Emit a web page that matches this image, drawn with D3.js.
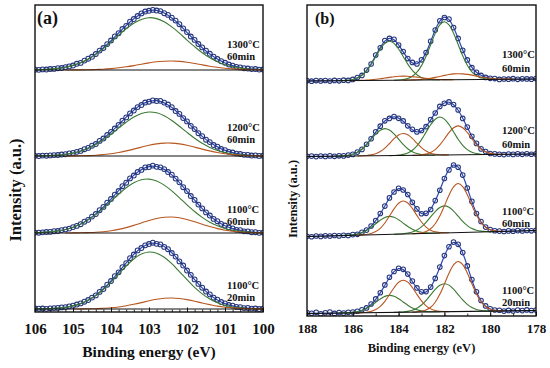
<!DOCTYPE html>
<html><head><meta charset="utf-8">
<script src="https://cdn.jsdelivr.net/npm/d3@7"></script>
<style>body{margin:0;background:#fff}</style>
</head><body><div id="chart"></div>
<script>
// ---- panel (a): Si 2p region, 106 -> 100 eV, data every 0.1 eV, fit components every 0.2 eV
const ticksA = [106, 105, 104, 103, 102, 101, 100];
const aData1300 = [0.3,0.2,0.6,0.5,1.0,1.1,1.8,2.0,2.9,3.6,4.5,6.2,7.1,9.4,11.3,13.2,16.0,19.4,22.0,25.9,29.5,33.6,36.8,41.0,44.2,48.3,51.0,54.0,56.6,58.5,59.2,60.1,59.5,58.9,56.8,55.1,52.3,49.4,45.8,41.6,37.9,33.5,30.1,26.0,22.6,19.3,16.2,13.3,11.0,8.8,7.2,5.5,4.4,3.2,2.6,1.8,1.5,0.9,1.0,0.4,0.5];
const aG1300 = [0.2,0.5,0.9,1.6,2.8,4.6,7.2,10.8,15.6,21.4,27.9,34.8,41.3,46.8,50.6,52.3,51.4,48.2,43.1,36.9,29.9,23.3,17.2,12.2,8.2,5.3,3.2,1.9,1.0,0.6,0.3];
const aB1300 = [0,0,0,0,0,0.1,0.1,0.2,0.5,0.8,1.4,2.2,3.2,4.4,5.8,7.1,8.2,8.8,9.0,8.6,7.7,6.5,5.1,3.8,2.7,1.7,1.1,0.6,0.3,0.2,0.1];

const aData1200 = [0.2,0.0,0.4,0.3,0.6,0.9,1.0,1.5,1.8,2.6,3.1,4.2,5.1,6.8,8.1,10.3,12.0,15.1,17.5,21.0,24.2,27.5,31.2,35.4,38.6,42.6,45.5,48.9,51.0,53.5,54.3,55.6,55.0,55.2,53.4,51.5,48.8,45.0,42.1,37.9,34.6,30.2,26.9,22.8,19.9,16.3,13.9,11.0,9.3,7.0,5.8,4.2,3.5,2.4,2.0,1.2,1.1,0.5,0.6,0.1,0.3];
const aG1200 = [0.1,0.2,0.5,0.9,1.7,2.9,4.8,7.6,11.4,16.2,21.8,27.9,33.8,38.9,42.5,44.0,43.2,40.2,35.5,29.7,23.6,17.8,12.7,8.6,5.6,3.4,2.0,1.1,0.6,0.3,0.1];
const aB1200 = [0,0,0,0,0,0.1,0.2,0.4,0.8,1.4,2.2,3.5,5.1,6.9,8.9,10.7,12.1,12.9,12.9,12.1,10.7,8.9,6.9,5.1,3.5,2.2,1.4,0.8,0.4,0.2,0.1];

const aData1100_60 = [0.4,0.3,0.7,1.0,1.1,1.8,2.0,2.9,3.6,4.4,5.9,7.1,8.8,11.3,13.2,16.4,19.0,22.8,26.1,30.3,34.0,38.4,42.0,46.8,50.3,54.6,57.5,61.0,63.1,65.6,66.0,67.4,66.2,65.7,63.9,61.0,58.3,54.4,50.7,45.8,41.9,37.0,33.1,28.4,24.6,20.6,17.5,14.1,11.8,9.1,7.5,5.5,4.6,3.2,2.8,1.7,1.6,0.8,0.8,0.2,0.4];
const aG1100_60 = [0.3,0.6,1.2,2.1,3.5,5.7,8.8,13.1,18.4,24.7,31.7,38.7,45.2,50.2,53.3,53.9,52.0,47.9,42.1,35.2,28.2,21.5,15.6,10.8,7.2,4.5,2.7,1.6,0.9,0.4,0.2];
const aB1100_60 = [0,0,0,0,0,0.1,0.2,0.4,0.7,1.3,2.2,3.6,5.4,7.6,10.1,12.5,14.5,15.7,16.0,15.2,13.5,11.3,8.8,6.5,4.4,2.8,1.7,1.0,0.5,0.2,0.1];

const aData1100_20 = [0.6,0.3,0.5,0.2,0.7,0.9,1.1,1.6,1.9,2.7,3.3,4.5,5.6,7.3,9.0,11.4,13.6,17.1,20.0,24.3,28.0,32.8,36.7,41.8,45.9,50.8,54.5,58.6,61.0,63.7,65.0,66.3,65.2,64.6,62.1,59.8,56.0,52.4,47.6,43.5,38.5,34.2,29.6,25.1,21.3,17.5,14.6,11.3,9.3,7.0,5.7,4.0,3.4,2.1,1.9,0.9,1.1,0.4,0.5,0.0,0.3];
const aG1100_20 = [0.1,0.2,0.4,0.9,1.7,3.1,5.3,8.7,13.4,19.5,26.9,35.0,43.0,50.0,54.9,57.0,55.8,51.7,45.3,37.4,29.3,21.6,15.1,9.9,6.2,3.6,2.0,1.1,0.5,0.2,0.1];
const aB1100_20 = [0,0,0,0,0,0,0.1,0.2,0.3,0.7,1.2,2.0,3.2,4.7,6.4,8.2,9.7,10.7,11.0,10.5,9.4,7.8,6.0,4.4,2.9,1.8,1.1,0.6,0.3,0.1,0.1];

// ---- panel (b): Zr 3d region, 188 -> 178 eV, everything every 0.2 eV
const ticksB = [188, 186, 184, 182, 180, 178];
const bData1300 = [0.3,-0.2,0.4,0.1,0.5,-0.1,0.6,0.2,0.8,0.6,1.6,3.4,5.6,10.9,17.0,25.9,33.2,40.5,42.6,41.8,35.9,29.5,22.4,18.6,17.0,21.2,28.4,39.8,50.9,60.3,63.5,61.9,53.4,42.6,30.7,21.1,13.3,8.7,5.6,3.6,2.7,2.4,1.6,2.0,1.8,2.3,1.7,2.2,2.1,1.8,2.4];
const bG1_1300 = [0,0,0,0,0,0,0,0,0.2,0.4,1.1,2.6,5.3,9.7,16.0,23.7,31.2,36.9,39,36.9,31.2,23.7,16.0,9.7,5.3,2.6,1.1,0.4,0.2,0,0,0,0,0,0,0,0,0,0,0,0,0,0,0,0,0,0,0,0,0,0];
const bG2_1300 = [0,0,0,0,0,0,0,0,0,0,0,0,0,0,0,0,0,0,0,0,0.2,0.6,1.7,3.8,7.8,14.4,23.8,35.2,46.5,54.9,58,54.9,46.5,35.2,23.8,14.4,7.8,3.8,1.7,0.6,0.2,0,0,0,0,0,0,0,0,0,0];
const bB1_1300 = [0,0,0,0,0,0,0,0,0,0,0,0.1,0.2,0.4,0.7,1.1,1.6,2.3,2.9,3.5,3.9,4,3.9,3.5,2.9,2.3,1.6,1.1,0.7,0.4,0.2,0.1,0,0,0,0,0,0,0,0,0,0,0,0,0,0,0,0,0,0,0];
const bB2_1300 = [0,0,0,0,0,0,0,0,0,0,0,0,0,0,0,0,0,0,0,0,0,0,0.1,0.2,0.3,0.6,1.1,1.7,2.5,3.4,4.4,5.2,5.8,6,5.8,5.2,4.4,3.4,2.5,1.7,1.1,0.6,0.3,0.2,0.1,0,0,0,0,0,0];

const bData1200 = [0.2,0.4,-0.1,0.5,0.1,0.6,0.2,0.7,0.6,1.4,2.1,4.4,7.1,12.3,17.8,24.8,30.3,35.7,38.1,40.0,38.2,35.6,30.7,27.2,24.6,26.0,29.8,36.9,43.5,50.1,53.2,54.6,51.9,46.5,38.1,29.4,20.2,13.1,7.6,4.9,3.0,2.6,2.3,1.9,2.5,2.1,2.6,2.2,2.8,2.3,2.6];
const bG1_1200 = [0,0,0,0,0,0,0,0.1,0.3,0.8,1.8,3.6,6.7,11.1,16.4,21.6,25.5,27,25.5,21.6,16.4,11.1,6.7,3.6,1.8,0.8,0.3,0.1,0,0,0,0,0,0,0,0,0,0,0,0,0,0,0,0,0,0,0,0,0,0,0];
const bB1_1200 = [0,0,0,0,0,0,0,0,0,0,0,0,0.1,0.3,0.9,2.0,4.2,7.6,12.1,16.9,20.6,22,20.6,16.9,12.1,7.6,4.2,2.0,0.9,0.3,0.1,0,0,0,0,0,0,0,0,0,0,0,0,0,0,0,0,0,0,0,0];
const bG2_1200 = [0,0,0,0,0,0,0,0,0,0,0,0,0,0,0,0,0,0,0,0.1,0.4,1.1,2.5,5.1,9.5,15.6,23.1,30.4,35.9,38,35.9,30.4,23.1,15.6,9.5,5.1,2.5,1.1,0.4,0.1,0,0,0,0,0,0,0,0,0,0,0];
const bB2_1200 = [0,0,0,0,0,0,0,0,0,0,0,0,0,0,0,0,0,0,0,0,0,0,0,0,0.1,0.4,1.1,2.7,5.5,10.1,16.0,22.3,27.1,29,27.1,22.3,16.0,10.1,5.5,2.7,1.1,0.4,0.1,0,0,0,0,0,0,0,0];

const bData1100_60 = [0.3,-0.2,0.5,0.1,0.7,0.4,1.0,0.6,1.3,1.0,1.9,2.2,4.3,6.4,10.5,15.9,23.0,30.4,38.6,44.5,48.2,46.5,42.0,34.2,27.6,22.8,23.2,27.0,35.9,46.3,58.0,66.6,71.5,69.3,61.4,48.5,35.1,23.0,15.0,9.4,6.9,5.8,5.4,5.0,5.6,5.3,5.9,5.5,6.1,5.7,6.2];
const bG1_1100_60 = [0,0,0,0,0,0,0,0,0.1,0.2,0.5,1.2,2.4,4.5,7.4,10.9,14.4,17.0,18,17.0,14.4,10.9,7.4,4.5,2.4,1.2,0.5,0.2,0.1,0,0,0,0,0,0,0,0,0,0,0,0,0,0,0,0,0,0,0,0,0,0];
const bB1_1100_60 = [0,0,0,0,0,0,0,0,0,0,0,0,0.2,0.5,1.3,3.1,6.3,11.5,18.2,25.3,30.9,33,30.9,25.3,18.2,11.5,6.3,3.1,1.3,0.5,0.2,0,0,0,0,0,0,0,0,0,0,0,0,0,0,0,0,0,0,0,0];
const bG2_1100_60 = [0,0,0,0,0,0,0,0,0,0,0,0,0,0,0,0,0,0,0,0,0.1,0.3,0.8,1.8,3.6,6.7,11.1,16.4,21.6,25.5,27,25.5,21.6,16.4,11.1,6.7,3.6,1.8,0.8,0.3,0.1,0,0,0,0,0,0,0,0,0,0];
const bB2_1100_60 = [0,0,0,0,0,0,0,0,0,0,0,0,0,0,0,0,0,0,0,0,0,0,0,0,0.2,0.7,1.9,4.5,9.4,17.0,27.0,37.6,45.9,49,45.9,37.6,27.0,17.0,9.4,4.5,1.9,0.7,0.2,0,0,0,0,0,0,0,0];

const bData1100_20 = [1.0,0.2,1.2,-0.3,0.8,1.4,0.1,0.9,0.4,1.3,1.5,2.3,3.8,5.6,9.5,14.6,20.8,28.6,36.3,42.0,45.3,44.2,39.4,32.5,25.6,21.7,21.9,26.4,35.1,46.4,57.9,66.8,71.4,69.2,60.9,47.6,33.9,21.8,13.0,7.6,4.8,3.5,3.3,2.4,3.1,2.5,3.4,2.9,3.6,3.0,3.5];
const bG1_1100_20 = [0,0,0,0,0,0,0,0,0.1,0.2,0.5,1.1,2.3,4.2,7.0,10.3,13.6,16.1,17,16.1,13.6,10.3,7.0,4.2,2.3,1.1,0.5,0.2,0.1,0,0,0,0,0,0,0,0,0,0,0,0,0,0,0,0,0,0,0,0,0,0];
const bB1_1100_20 = [0,0,0,0,0,0,0,0,0,0,0,0,0.2,0.5,1.3,3.0,6.1,11.1,17.7,24.6,30.0,32,30.0,24.6,17.7,11.1,6.1,3.0,1.3,0.5,0.2,0,0,0,0,0,0,0,0,0,0,0,0,0,0,0,0,0,0,0,0];
const bG2_1100_20 = [0,0,0,0,0,0,0,0,0,0,0,0,0,0,0,0,0,0,0,0,0.1,0.3,0.8,1.8,3.8,7.0,11.5,17.0,22.4,26.5,28,26.5,22.4,17.0,11.5,7.0,3.8,1.8,0.8,0.3,0.1,0,0,0,0,0,0,0,0,0,0];
const bB2_1100_20 = [0,0,0,0,0,0,0,0,0,0,0,0,0,0,0,0,0,0,0,0,0,0,0,0,0.2,0.7,2.0,4.6,9.6,17.4,27.6,38.4,46.8,50,46.8,38.4,27.6,17.4,9.6,4.6,2.0,0.7,0.2,0,0,0,0,0,0,0,0];

// linear background (value at 188 eV, value at 178 eV)
const bgB1300 = [0, 2], bgB1200 = [0, 2.5], bgB1100_60 = [0, 6], bgB1100_20 = [0, 3];

const W = 550, H = 368;
const COL = { circ: "#26357a", fit: "#2c48b8", green: "#3a7a32", brown: "#b8561f", base: "#111" };

const svg = d3.select("#chart").append("svg")
  .attr("width", W).attr("height", H)
  .style("font-family", "'Liberation Serif','Times New Roman',serif")
  .style("font-weight", "bold");
svg.append("rect").attr("width", W).attr("height", H).attr("fill", "#fff");

const eA = d3.range(61).map(i => +(106 - i * 0.1).toFixed(1));
const eAc = d3.range(31).map(i => +(106 - i * 0.2).toFixed(1));
const eB = d3.range(51).map(i => +(188 - i * 0.2).toFixed(1));

const xA = d3.scaleLinear().domain([106, 100]).range([35, 263]);
const xB = d3.scaleLinear().domain([188, 178]).range([307, 536]);

const specA = [
  { y0: 70,  lab: ["1300°C", "60min"], ly: [48, 60],   data: aData1300,    comps: [[aG1300, COL.green], [aB1300, COL.brown]] },
  { y0: 156, lab: ["1200°C", "60min"], ly: [131, 143], data: aData1200,    comps: [[aG1200, COL.green], [aB1200, COL.brown]] },
  { y0: 233, lab: ["1100°C", "60min"], ly: [213, 225], data: aData1100_60, comps: [[aG1100_60, COL.green], [aB1100_60, COL.brown]] },
  { y0: 309, lab: ["1100°C", "20min"], ly: [289, 301], data: aData1100_20, comps: [[aG1100_20, COL.green], [aB1100_20, COL.brown]] },
];
const specB = [
  { y0: 81,    bg: bgB1300,    lab: ["1300°C", "60min"], ly: [58, 72],   data: bData1300,
    comps: [[bG1_1300, COL.green], [bG2_1300, COL.green], [bB1_1300, COL.brown], [bB2_1300, COL.brown]] },
  { y0: 156.5, bg: bgB1200,    lab: ["1200°C", "60min"], ly: [134, 148], data: bData1200,
    comps: [[bG1_1200, COL.green], [bG2_1200, COL.green], [bB1_1200, COL.brown], [bB2_1200, COL.brown]] },
  { y0: 236.5, bg: bgB1100_60, lab: ["1100°C", "60min"], ly: [215, 227], data: bData1100_60,
    comps: [[bG1_1100_60, COL.green], [bG2_1100_60, COL.green], [bB1_1100_60, COL.brown], [bB2_1100_60, COL.brown]] },
  { y0: 313.5, bg: bgB1100_20, lab: ["1100°C", "20min"], ly: [294, 306], data: bData1100_20,
    comps: [[bG1_1100_20, COL.green], [bG2_1100_20, COL.green], [bB1_1100_20, COL.brown], [bB2_1100_20, COL.brown]] },
];

function drawSpectrum(g, x, grid, cgrid, sp, r, labX, fs) {
  const y = d3.scaleLinear().domain([0, 100]).range([sp.y0, sp.y0 - 100]);
  const bg = d3.scaleLinear().domain(x.domain()).range(sp.bg || [0, 0]);
  const line = d3.line().x(d => x(d[0])).y(d => y(d[1])).curve(d3.curveCatmullRom.alpha(0.5));

  // envelope of the fit (under the points)
  const env = cgrid.map((e, i) => [e, bg(e) + d3.sum(sp.comps, c => c[0][i])]);
  g.append("path").attr("d", line(env)).attr("fill", "none")
    .attr("stroke", COL.fit).attr("stroke-width", 1.2);
  // measured points
  g.append("g").selectAll("circle").data(sp.data.map((v, i) => [grid[i], v])).join("circle")
    .attr("cx", d => x(d[0])).attr("cy", d => y(d[1])).attr("r", r)
    .attr("fill", "none").attr("stroke", COL.circ).attr("stroke-width", 1.05);
  // fitted components, sitting on the background
  sp.comps.forEach(([vals, col]) => {
    let lo = vals.findIndex(v => v > 0), hi = vals.length - 1;
    while (hi > 0 && !(vals[hi] > 0)) hi--;
    lo = Math.max(0, lo - 1); hi = Math.min(vals.length - 1, hi + 1);
    const pts = cgrid.slice(lo, hi + 1).map((e, k) => [e, bg(e) + vals[lo + k]]);
    g.append("path").attr("d", line(pts)).attr("fill", "none")
      .attr("stroke", col).attr("stroke-width", 1.1);
  });
  // background line
  g.append("line")
    .attr("x1", x(x.domain()[0])).attr("x2", x(x.domain()[1]))
    .attr("y1", y(bg(x.domain()[0]))).attr("y2", y(bg(x.domain()[1])))
    .attr("stroke", COL.base).attr("stroke-width", 1.1);
  // condition label
  sp.lab.forEach((t, k) => g.append("text").attr("x", labX).attr("y", sp.ly[k])
    .attr("font-size", fs).attr("fill", "#111").text(t));
}

function drawPanel(cfg) {
  const g = svg.append("g");
  const clipId = "clip" + cfg.name;
  svg.append("clipPath").attr("id", clipId).append("rect")
    .attr("x", cfg.x.range()[0]).attr("y", cfg.top)
    .attr("width", cfg.x.range()[1] - cfg.x.range()[0]).attr("height", cfg.bottom - cfg.top);
  const inner = g.append("g").attr("clip-path", `url(#${clipId})`);
  cfg.specs.forEach(sp => drawSpectrum(inner, cfg.x, cfg.grid, cfg.cgrid, sp, cfg.r, cfg.labX, cfg.labFs));

  // axis with inward ticks
  const ax = g.append("g").attr("transform", `translate(0,${cfg.bottom})`)
    .call(d3.axisBottom(cfg.x).tickValues(cfg.ticks).tickFormat(d3.format("d"))
      .tickSizeInner(-4.5).tickSizeOuter(0).tickPadding(cfg.pad));
  ax.select(".domain").remove();
  ax.selectAll("line").attr("stroke", "#111").attr("stroke-width", 1);
  ax.selectAll("text").attr("font-size", cfg.tickFs).attr("fill", "#111")
    .attr("font-family", "'Liberation Serif',serif").attr("font-weight", "bold");
  const mx = g.append("g").attr("transform", `translate(0,${cfg.bottom})`)
    .call(d3.axisBottom(cfg.x).tickValues(cfg.minor).tickFormat("").tickSizeInner(-2.5).tickSizeOuter(0));
  mx.select(".domain").remove();
  mx.selectAll("line").attr("stroke", "#111").attr("stroke-width", 0.9);

  // frame
  g.append("rect").attr("x", cfg.x.range()[0]).attr("y", cfg.top)
    .attr("width", cfg.x.range()[1] - cfg.x.range()[0]).attr("height", cfg.bottom - cfg.top)
    .attr("fill", "none").attr("stroke", "#111").attr("stroke-width", 1.4);

  g.append("text").attr("x", cfg.tagX).attr("y", cfg.tagY).attr("font-size", cfg.tagFs)
    .attr("fill", "#111").text(cfg.tag);
  g.append("text").attr("x", (cfg.x.range()[0] + cfg.x.range()[1]) / 2).attr("y", cfg.xlabY)
    .attr("text-anchor", "middle").attr("font-size", cfg.xlabFs).attr("fill", "#111")
    .text("Binding energy (eV)");
  g.append("text").attr("transform", `translate(${cfg.ylabX},${cfg.ylabY}) rotate(-90)`)
    .attr("text-anchor", "middle").attr("font-size", cfg.ylabFs).attr("fill", "#111")
    .text("Intensity (a.u.)");
}

drawPanel({
  name: "A", x: xA, top: 5, bottom: 312, grid: eA, cgrid: eAc, specs: specA, r: 2.4,
  labX: 227, labFs: 10.5, ticks: ticksA, minor: d3.range(31).map(i => 100 + i * 0.2), pad: 11, tickFs: 15,
  tag: "(a)", tagX: 37, tagY: 24, tagFs: 18, xlabY: 357, xlabFs: 15.5, ylabX: 21, ylabY: 190, ylabFs: 16.5
});
drawPanel({
  name: "B", x: xB, top: 5, bottom: 316, grid: eB, cgrid: eB, specs: specB, r: 2.3,
  labX: 502, labFs: 10.5, ticks: ticksB, minor: d3.range(11).map(i => 178 + i), pad: 8, tickFs: 13,
  tag: "(b)", tagX: 315, tagY: 24, tagFs: 16, xlabY: 352, xlabFs: 12.5, ylabX: 297, ylabY: 199, ylabFs: 12.5
});
</script>
</body></html>
